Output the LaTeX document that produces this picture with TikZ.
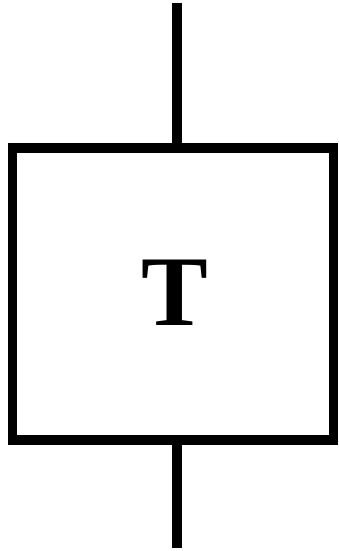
\documentclass[tikz,border=0pt]{standalone}
\usepackage{fontspec}
\setmainfont{Liberation Serif}
\begin{document}
\begin{tikzpicture}[x=1pt,y=-1pt,
  blk/.style={draw=black,line width=9.5pt,minimum width=321pt,minimum height=292pt,inner sep=0pt,outer sep=0pt,miter limit=10,font=\fontsize{100}{100}\selectfont\bfseries},
  wire/.style={draw=black,line width=10pt}]
\useasboundingbox (0,0) rectangle (338,551);
\node[blk] (box) at (173,294) {};
\node[font=\fontsize{100}{100}\selectfont\bfseries,inner sep=0pt] (lbl) at (174.5,293) {T};
\coordinate (topend) at (177,3);
\coordinate (botend) at (177,548);
\draw[wire] (topend) -- (topend |- box.north);
\draw[wire] (botend |- box.south) -- (botend);
\end{tikzpicture}
\end{document}
